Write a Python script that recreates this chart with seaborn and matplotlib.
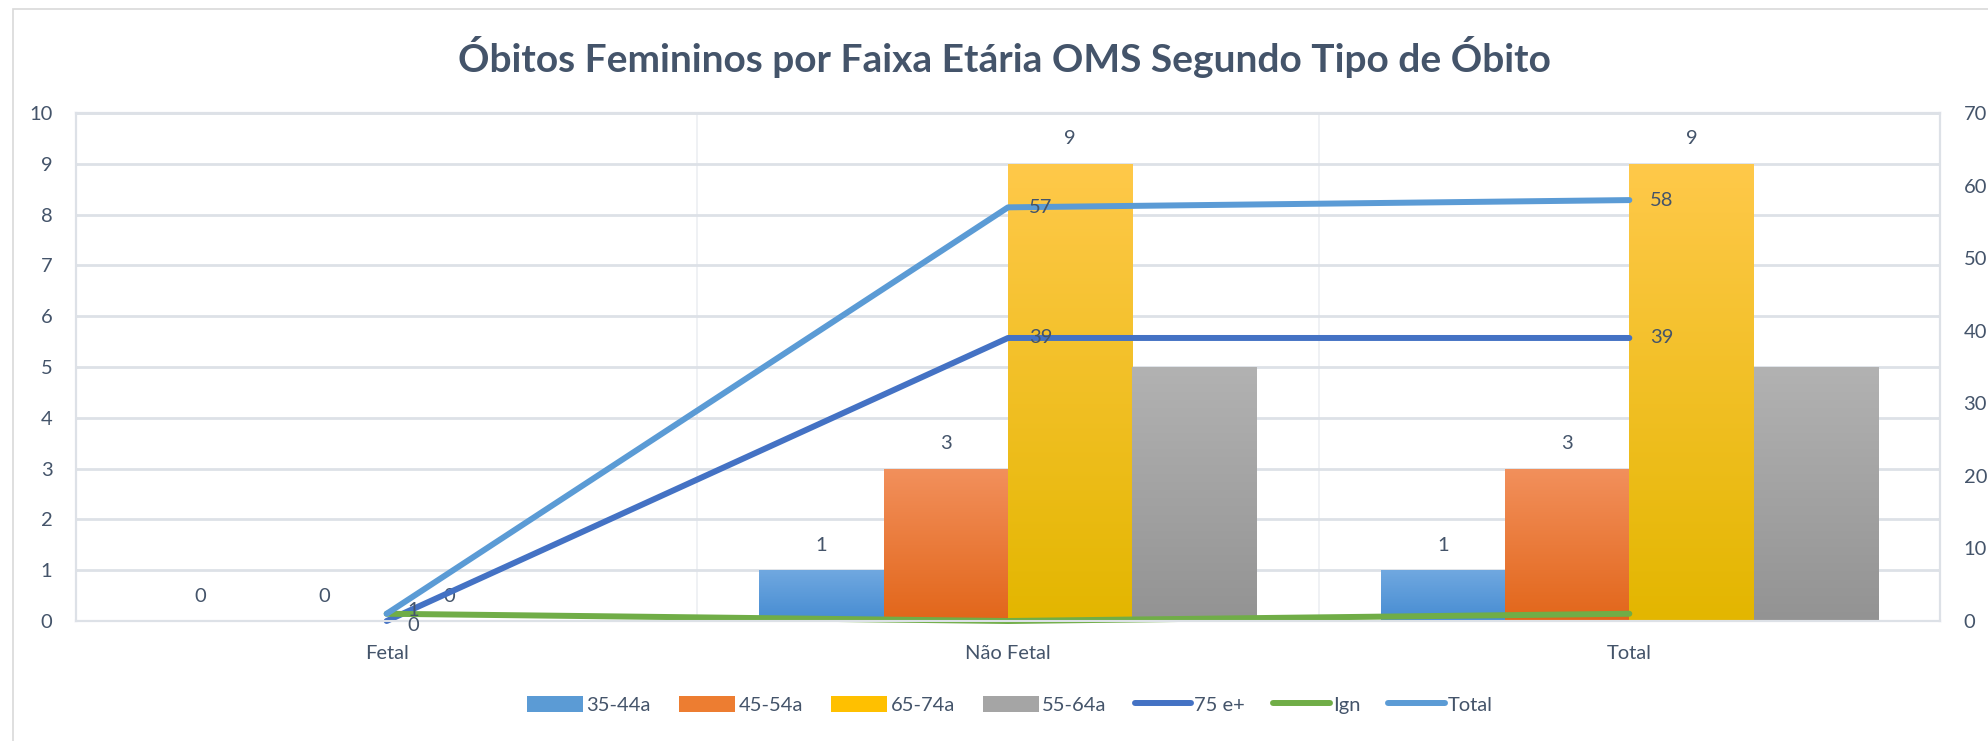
import numpy as np
import pandas as pd
import matplotlib
matplotlib.use("Agg")
import matplotlib.pyplot as plt
from matplotlib.colors import LinearSegmentedColormap
from matplotlib.lines import Line2D
from matplotlib.patches import Patch, Rectangle
import seaborn as sns

# data
tipos = ["Fetal", "Não Fetal", "Total"]
faixas_barra = ["35-44a", "45-54a", "65-74a", "55-64a"]
v_35_44 = [0, 1, 1]
v_45_54 = [0, 3, 3]
v_65_74 = [0, 9, 9]
v_55_64 = [0, 5, 5]
v_75_mais = [0, 39, 39]
v_ign = [1, 0, 1]
v_total = [1, 57, 58]

cores_topo = ["#70A8E0", "#F2905C", "#FFC94A", "#B2B2B2"]
cores_base = ["#468CD2", "#E2661A", "#E3B600", "#939393"]
cores_barra = ["#5B9BD5", "#ED7D31", "#FFC000", "#A5A5A5"]
cor_75 = "#4472C4"
cor_ign = "#70AD47"
cor_total = "#5B9BD5"
cor_texto = "#44546A"
cor_grade = "#DDE1E7"

sns.set_theme(style="white")
plt.rcParams["font.family"] = ["Lato", "DejaVu Sans"]

df = pd.DataFrame({
    "tipo": tipos * 4,
    "faixa": [f for f in faixas_barra for _ in tipos],
    "valor": v_35_44 + v_45_54 + v_65_74 + v_55_64,
})

fig = plt.figure(figsize=(19.88, 7.41), dpi=100)
ax = fig.add_axes([76 / 1988, 1 - 621 / 741, 1864 / 1988, 508 / 741])

sns.barplot(data=df, x="tipo", y="valor", hue="faixa", order=tipos,
            hue_order=faixas_barra, palette=cores_barra, width=0.8,
            saturation=1, legend=False, ax=ax, zorder=2)

# gradient fill on bars
for i, cont in enumerate(ax.containers):
    cmap = LinearSegmentedColormap.from_list("g", [cores_base[i], cores_topo[i]])
    grad = np.linspace(0, 1, 256).reshape(-1, 1)
    for bar in cont:
        h = bar.get_height()
        if not h:
            continue
        x0 = bar.get_x()
        w = bar.get_width()
        bar.set_facecolor("none")
        bar.set_edgecolor("none")
        im = ax.imshow(grad, cmap=cmap, origin="lower", aspect="auto",
                       extent=[x0, x0 + w, 0, h], zorder=2)
        im.set_clip_path(bar)

# bar labels (55-64a has no labels)
for i, cont in enumerate(ax.containers[:3]):
    for bar in cont:
        h = bar.get_height()
        ax.annotate(f"{h:.0f}", (bar.get_x() + bar.get_width() / 2, h),
                    xytext=(0, 18), textcoords="offset points",
                    ha="center", va="center", fontsize=14.5, color=cor_texto)

ax.set_xlim(-0.5, 2.5)
ax.set_ylim(0, 10)
ax.set_yticks(range(0, 11))
ax.set_xlabel("")
ax.set_ylabel("")
ax.set_xticks([0, 1, 2])
ax.set_xticklabels(tipos)
ax.set_xticks(np.arange(-0.5, 2.6, 0.5), minor=True)
ax.grid(axis="y", color=cor_grade, lw=2, zorder=0)
ax.grid(axis="x", which="minor", color="#EEF0F3", lw=1.3, zorder=0)
ax.set_axisbelow(True)
ax.tick_params(axis="both", which="both", length=0, labelsize=14.5,
               labelcolor=cor_texto)
ax.tick_params(axis="x", pad=17)
ax.tick_params(axis="y", pad=17)
for s in ax.spines.values():
    s.set_color(cor_grade)
    s.set_linewidth(1.5)

ax2 = ax.twinx()
pos = np.arange(len(tipos))
for vals, cor in [(v_75_mais, cor_75), (v_ign, cor_ign), (v_total, cor_total)]:
    sns.lineplot(x=pos, y=vals, color=cor, lw=4.3, ax=ax2, clip_on=False,
                 solid_capstyle="round", solid_joinstyle="round")
ax2.set_ylim(0, 70)
ax2.set_yticks(range(0, 71, 10))
ax2.set_xlim(-0.5, 2.5)
ax2.tick_params(axis="y", length=0, labelsize=14.5, labelcolor=cor_texto, pad=17)
for s in ax2.spines.values():
    s.set_color(cor_grade)
    s.set_linewidth(1.5)

for vals, dy in ((v_75_mais, -3), (v_total, 2)):
    for x, v in zip(pos, vals):
        ax2.annotate(f"{v}", (x, v), xytext=(15, dy if x == 0 else 0),
                     textcoords="offset points", ha="left", va="center",
                     fontsize=14.5, color=cor_texto)

fig.text(0.505, 0.923, "Óbitos Femininos por Faixa Etária OMS Segundo Tipo de Óbito",
         ha="center", va="center", fontsize=28, fontweight="bold", color=cor_texto)

handles = [Patch(facecolor=c, edgecolor="none") for c in cores_barra]
handles += [Line2D([], [], color=c, lw=4.3, solid_capstyle="round")
            for c in (cor_75, cor_ign, cor_total)]
labels = faixas_barra + ["75 e+", "Ign", "Total"]
fig.legend(handles, labels, loc="center", bbox_to_anchor=(0.508, 0.049), ncol=7,
           frameon=False, fontsize=14.5, handlelength=2.8, handleheight=0.9,
           handletextpad=0.15, columnspacing=1.4, labelcolor=cor_texto)

fig.patches.append(Rectangle((13 / 1988, -0.1), 1.2, 1 - 9 / 741 + 0.1,
                             transform=fig.transFigure, fill=False,
                             edgecolor="#D9D9D9", lw=1.2))

fig.savefig("out.png", dpi=100)
